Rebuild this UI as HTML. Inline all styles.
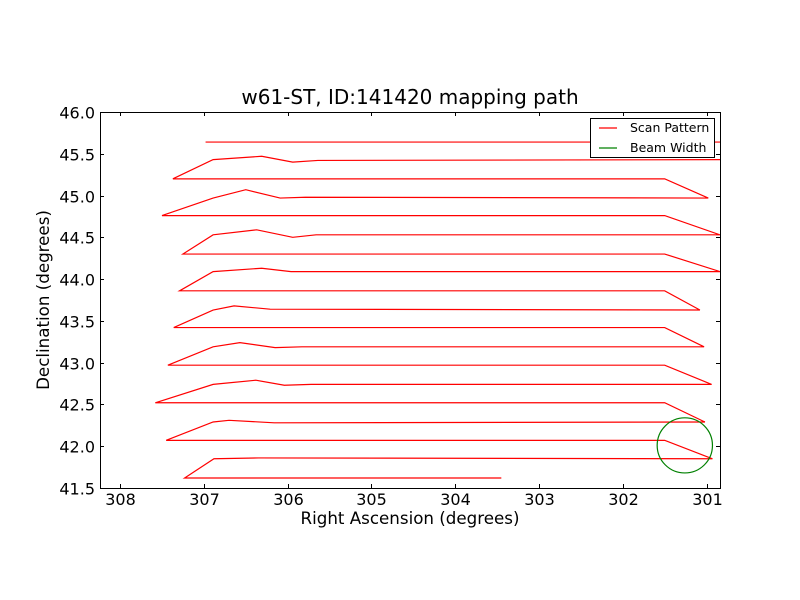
<!DOCTYPE html>
<html><head><meta charset="utf-8"><style>
html,body{margin:0;padding:0;background:#fff;}
svg{display:block;font-family:"DejaVu Sans","Liberation Sans",sans-serif;}
</style></head><body>
<svg id="chart" width="800" height="600" viewBox="0 0 800 600">
<rect x="0" y="0" width="800" height="600" fill="#fff"/>
<text x="410" y="104" font-size="20" text-anchor="middle">w61-ST, ID:141420 mapping path</text>
<text x="410" y="524" font-size="16.7" text-anchor="middle">Right Ascension (degrees)</text>
<text x="49" y="300" font-size="16.7" text-anchor="middle" transform="rotate(-90 49 300)">Declination (degrees)</text>
<defs><clipPath id="plotclip"><rect x="100" y="112" width="620" height="376"/></clipPath></defs>
<g id="marks" clip-path="url(#plotclip)"></g>
<g id="axes"></g>
<g>
<rect x="590.5" y="118.5" width="124" height="39" fill="#fff" stroke="#000" stroke-width="1"/>
<line x1="599" y1="128" x2="617" y2="128" stroke="#f00" stroke-width="1.2"/>
<text x="630" y="132" font-size="12.5">Scan Pattern</text>
<line x1="599" y1="148" x2="617" y2="148" stroke="#008000" stroke-width="1.2"/>
<text x="630" y="152" font-size="12.5">Beam Width</text>
</g>
</svg>
<script>
const raValues = [303.45,307.23,306.88,306.35,300.93,301.50,307.45,306.89,306.70,306.16,301.02,301.50,307.58,306.89,306.38,306.04,305.72,300.94,301.50,307.43,306.89,306.57,306.15,305.83,301.03,301.50,307.36,306.89,306.64,306.21,301.08,301.50,307.29,306.89,306.31,305.96,300.84,301.50,307.25,306.89,306.37,305.94,305.66,300.84,301.50,307.50,306.89,306.50,306.09,305.79,300.98,301.50,307.37,306.89,306.31,305.94,305.64,300.70,300.70,306.98];
const decValues = [41.62,41.62,41.85,41.86,41.85,42.07,42.07,42.29,42.31,42.28,42.29,42.52,42.52,42.74,42.79,42.73,42.74,42.74,42.97,42.97,43.19,43.24,43.18,43.19,43.19,43.42,43.42,43.63,43.68,43.64,43.63,43.86,43.86,44.09,44.13,44.09,44.09,44.30,44.30,44.53,44.59,44.50,44.53,44.53,44.76,44.76,44.97,45.07,44.97,44.98,44.97,45.20,45.20,45.43,45.47,45.40,45.42,45.43,45.64,45.64];
const beamCenter = [301.26, 42.01];
const beamRadius = [0.33];
const xTicks = [308,307,306,305,304,303,302,301];
const yTicks = [41.5,42.0,42.5,43.0,43.5,44.0,44.5,45.0,45.5,46.0];

const X0=100,X1=720,Y0=112,Y1=488;
const raMax=308.24, raMin=300.84, decMin=41.5, decMax=46.0;
const sx = v => X0 + (raMax - v)/(raMax-raMin)*(X1-X0);
const sy = v => Y1 - (v-decMin)/(decMax-decMin)*(Y1-Y0);
const NS="http://www.w3.org/2000/svg";
const marks=document.getElementById('marks');
const axes=document.getElementById('axes');

let d='';
raValues.forEach((r,i)=>{d+=(i?'L':'M')+sx(r).toFixed(2)+' '+sy(decValues[i]).toFixed(2);});
const path=document.createElementNS(NS,'path');
path.setAttribute('d',d);path.setAttribute('fill','none');path.setAttribute('stroke','#f00');path.setAttribute('stroke-width','1.2');


marks.appendChild(path);

const circ=document.createElementNS(NS,'ellipse');
circ.setAttribute('cx',sx(beamCenter[0]));circ.setAttribute('cy',sy(beamCenter[1]));
circ.setAttribute('rx',Math.abs(sx(beamCenter[0]+beamRadius[0])-sx(beamCenter[0])));
circ.setAttribute('ry',Math.abs(sy(beamCenter[1]+beamRadius[0])-sy(beamCenter[1])));
circ.setAttribute('fill','none');circ.setAttribute('stroke','#008000');circ.setAttribute('stroke-width','1.2');


marks.appendChild(circ);

function line(x1,y1,x2,y2,name){
  const l=document.createElementNS(NS,'line');
  l.setAttribute('x1',x1);l.setAttribute('y1',y1);l.setAttribute('x2',x2);l.setAttribute('y2',y2);
  l.setAttribute('stroke','#000');l.setAttribute('stroke-width','1');
  
  
  axes.appendChild(l);
}
function text(x,y,s,anchor,name){
  const t=document.createElementNS(NS,'text');
  t.setAttribute('x',x);t.setAttribute('y',y);t.setAttribute('font-size','16');t.setAttribute('text-anchor',anchor);
  t.textContent=s;
  
  
  axes.appendChild(t);
}
xTicks.forEach(v=>{
  const x=Math.round(sx(v))+0.5;
  line(x,Y1,x,Y1-4,'x-tick');
  line(x,Y0,x,Y0+4,'x-tick-top');
  text(x,505,String(v),'middle','x-tick-label');
});
yTicks.forEach(v=>{
  const y=Math.round(sy(v))+0.5;
  line(X0,y,X0+4,y,'y-tick');
  line(X1,y,X1-4,y,'y-tick-right');
  text(95,y+6,v.toFixed(1),'end','y-tick-label');
});
const fr=document.createElementNS(NS,'rect');
fr.setAttribute('x',X0+0.5);fr.setAttribute('y',Y0+0.5);fr.setAttribute('width',X1-X0);fr.setAttribute('height',Y1-Y0);
fr.setAttribute('fill','none');fr.setAttribute('stroke','#000');fr.setAttribute('stroke-width','1');


axes.appendChild(fr);
</script>
</body></html>
